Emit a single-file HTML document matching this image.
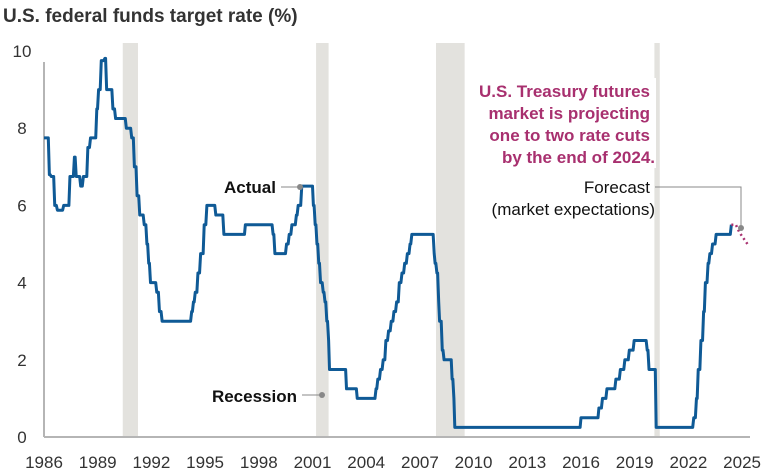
<!DOCTYPE html>
<html><head><meta charset="utf-8"><style>
body{margin:0;background:#fff;}
svg{display:block;font-family:"Liberation Sans",sans-serif;}
</style></head><body>
<svg id="chart" width="767" height="475">
<text x="3" y="22" font-size="19" font-weight="bold" fill="#333">U.S. federal funds target rate (%)</text>
<g id="bands"></g>
<g id="axes"></g>
<g id="series"></g>
<rect x="468" y="78" width="188" height="90" fill="#fff"/>
<g font-size="17" font-weight="bold" fill="#a8306f" text-anchor="end">
<text x="650" y="97">U.S. Treasury futures</text>
<text x="650" y="119">market is projecting</text>
<text x="650" y="141">one to two rate cuts</text>
<text x="655" y="163">by the end of 2024.</text>
</g>
<g font-size="17" fill="#111">
<text x="276" y="193" text-anchor="end" font-weight="bold">Actual</text>
<line x1="281" y1="187" x2="300" y2="187" stroke="#888"/><circle cx="300" cy="187" r="3" fill="#888"/>
<text x="297" y="402" text-anchor="end" font-weight="bold">Recession</text>
<line x1="302" y1="395" x2="322" y2="395" stroke="#888"/><circle cx="322" cy="395" r="3" fill="#888"/>
<text x="650" y="193" text-anchor="end">Forecast</text>
<text x="655" y="215" text-anchor="end">(market expectations)</text>
<polyline points="655,187 741,187 741,228" fill="none" stroke="#888"/><circle cx="741" cy="228" r="3" fill="#888"/>
</g>
</svg>
<script>
const years=[1986.0,1986.3,1986.4,1986.5,1986.6,1986.75,1987.0,1987.1,1987.3,1987.45,1987.6,1987.7,1987.8,1987.95,1988.05,1988.2,1988.3,1988.45,1988.6,1988.75,1988.95,1989.05,1989.2,1989.4,1989.5,1989.7,1989.85,1990.0,1990.5,1990.6,1990.8,1990.9,1991.05,1991.2,1991.35,1991.5,1991.6,1991.75,1991.85,1991.95,1992.1,1992.3,1992.45,1992.6,1994.1,1994.25,1994.35,1994.45,1994.6,1994.75,1994.95,1995.1,1995.5,1995.6,1995.95,1996.05,1997.2,1997.25,1998.7,1998.8,1998.9,1999.4,1999.55,1999.7,1999.85,2000.0,2000.1,2000.2,2000.4,2001.0,2001.05,2001.15,2001.25,2001.35,2001.45,2001.6,2001.7,2001.8,2001.9,2001.95,2002.85,2002.9,2003.45,2003.5,2004.45,2004.55,2004.65,2004.8,2004.95,2005.1,2005.25,2005.4,2005.55,2005.7,2005.85,2006.0,2006.15,2006.3,2006.45,2006.55,2007.7,2007.8,2007.85,2007.95,2008.05,2008.1,2008.25,2008.35,2008.75,2008.8,2008.9,2008.95,2015.95,2016.0,2016.95,2017.0,2017.2,2017.45,2017.95,2018.2,2018.45,2018.7,2018.97,2019.55,2019.7,2019.8,2020.15,2020.2,2022.2,2022.3,2022.45,2022.55,2022.7,2022.85,2022.95,2023.1,2023.2,2023.35,2023.55,2024.4];
const rates=[7.75,6.8,6.75,6.75,6.0,5.875,5.875,6.0,6.0,6.75,6.75,7.25,6.75,6.75,6.5,6.75,6.75,7.5,7.75,7.75,8.5,9.0,9.75,9.81,9.0,9.0,8.5,8.25,8.25,8.0,8.0,7.75,7.0,6.25,5.75,5.75,5.5,5.0,4.5,4.0,4.0,3.75,3.25,3.0,3.0,3.25,3.5,3.75,4.25,4.75,5.5,6.0,6.0,5.75,5.75,5.25,5.25,5.5,5.5,5.25,4.75,4.75,5.0,5.25,5.5,5.5,5.75,6.0,6.5,6.5,6.0,5.5,5.0,4.5,4.0,3.75,3.5,3.0,2.5,1.75,1.75,1.25,1.25,1.0,1.0,1.25,1.5,1.75,2.0,2.5,2.75,3.0,3.25,3.5,4.0,4.25,4.5,4.75,5.0,5.25,5.25,4.75,4.5,4.25,3.5,3.0,2.25,2.0,2.0,1.5,1.0,0.25,0.25,0.5,0.5,0.75,1.0,1.25,1.5,1.75,2.0,2.25,2.5,2.5,2.25,1.75,1.75,0.25,0.25,0.5,1.0,1.75,2.5,3.25,4.0,4.5,4.75,5.0,5.25,5.5,5.5];
const forecastYears=[2024.4,2024.65,2024.85,2025.3];
const forecastRates=[5.5,5.5,5.3,5.0];
const recessions=[[1990.4,1991.25],[2001.2,2001.9],[2007.9,2009.5],[2020.1,2020.4]];
const xTicks=[1986,1989,1992,1995,1998,2001,2004,2007,2010,2013,2016,2019,2022,2025];
const yTicks=[0,2,4,6,8,10];
const NS='http://www.w3.org/2000/svg';
const X=y=>44+(y-1986)*17.9;
const Y=v=>437-v*38.6;
function mk(tag,attrs,parent,text){const e=document.createElementNS(NS,tag);for(const k in attrs)e.setAttribute(k,attrs[k]);if(text!==undefined)e.textContent=text;document.getElementById(parent).appendChild(e);return e;}
recessions.forEach(r=>{const e=mk('rect',{x:X(r[0]),y:43,width:X(r[1])-X(r[0]),height:437-43,fill:'#e3e2de'},'bands');

});
let a=mk('line',{x1:44,y1:62,x2:44,y2:437,stroke:'#b5b5b5','stroke-width':2},'axes');


a=mk('line',{x1:44,y1:437,x2:750,y2:437,stroke:'#b5b5b5','stroke-width':2},'axes');


yTicks.forEach(v=>{const t=mk('text',{x:22,y:Y(v)+6,'font-size':17,fill:'#333','text-anchor':'middle'},'axes',String(v));

});
xTicks.forEach(v=>{const t=mk('text',{x:X(v),y:468,'font-size':17,fill:'#333','text-anchor':'middle'},'axes',String(v));

});
const pts=[];
for(let i=0;i<years.length;i++){
  pts.push(X(years[i])+','+Y(rates[i]));
  if(i<years.length-1){const nx=years[i+1]-0.06;if(nx>years[i])pts.push(X(nx)+','+Y(rates[i]));}
}
const l=mk('polyline',{points:pts.join(' '),fill:'none',stroke:'#0f5a96','stroke-width':3,'stroke-linejoin':'round'},'series');


const f=mk('polyline',{points:forecastYears.map((y,i)=>X(y)+','+Y(forecastRates[i])).join(' '),fill:'none',stroke:'#a8306f','stroke-width':2.5,'stroke-dasharray':'2 3'},'series');


</script>
</body></html>
